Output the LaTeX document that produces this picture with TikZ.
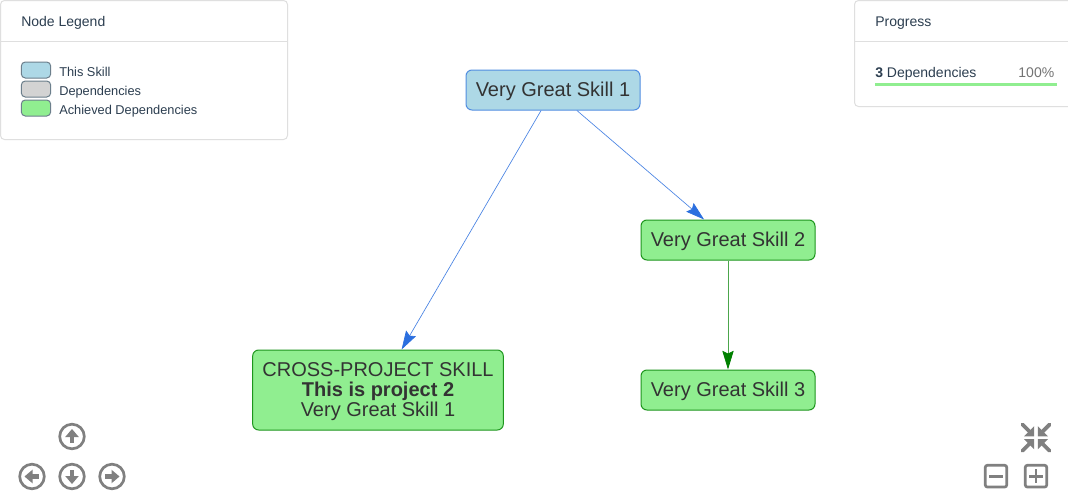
\documentclass[tikz,border=0pt]{standalone}
\usepackage{fontspec}
\setmainfont{Liberation Sans}
\usetikzlibrary{arrows.meta}
\definecolor{inkdark}{HTML}{2C3E50}
\definecolor{nodetext}{HTML}{333333}
\definecolor{panelline}{HTML}{DFDFDF}
\definecolor{edgeblue}{HTML}{2B6FDF}
\definecolor{edgegreen}{HTML}{008000}
\definecolor{skillblue}{HTML}{ADD8E6}
\definecolor{skillgray}{HTML}{D3D3D3}
\definecolor{skillgreen}{HTML}{90EE90}
\definecolor{swatchline}{HTML}{6C7F8C}
\definecolor{icongray}{HTML}{808080}
\newcommand{\dn}[1]{\raisebox{-0.75pt}[\height][\depth]{#1}}
\newcommand{\dnn}[1]{\raisebox{-1.5pt}[\height][\depth]{#1}}
\tikzset{
  x=0.75pt,y=-0.75pt,
  panel/.style={draw=panelline,line width=0.75pt,fill=white,rounded corners=3pt},
  divider/.style={draw=panelline,line width=0.75pt},
  skillnode/.style={rounded corners=4.5pt,inner sep=0pt,line width=0.75pt,text=nodetext,align=center,
    font=\fontsize{15}{15}\selectfont,minimum height=30pt,minimum width=130.5pt},
  thisskill/.style={skillnode,fill=skillblue,draw=edgeblue!70!skillblue},
  achieved/.style={skillnode,fill=skillgreen,draw=edgegreen!80!skillgreen},
  swatch/.style={draw=swatchline,line width=0.75pt,rounded corners=3pt,minimum width=22pt,minimum height=12pt,inner sep=0pt},
  head/.style={anchor=base west,inner sep=0pt,text=inkdark,font=\fontsize{10.5}{12}\selectfont},
  small/.style={anchor=base west,inner sep=0pt,text=inkdark,font=\fontsize{9.6}{12}\selectfont},
  edgeb/.style={draw=edgeblue!85!white,line width=0.5pt,-{Stealth[length=14pt,width=8.5pt,inset=2pt,color=edgeblue,fill=edgeblue]}},
  edgeg/.style={draw=edgegreen!70!white,line width=0.6pt,-{Stealth[length=14pt,width=8.5pt,inset=2pt,color=edgegreen,fill=edgegreen]}},
  ring/.style={draw=icongray,line width=2pt},
  glyph/.style={fill=icongray,draw=none},
  boxicon/.style={draw=icongray,line width=2pt,rounded corners=1.5pt},
  stroke/.style={draw=icongray,line width=2.2pt},
  pics/roundarrow/.style={code={
    \draw[ring] (0,0) circle[radius=12.3];
    \fill[glyph] (-6.8,0.5) -- (0,-7.5) -- (6.8,0.5) -- cycle;
    \fill[glyph] (-2.2,0) rectangle (2.2,6.8);
  }},
  pics/corner/.style={code={
    \fill[glyph] (-1.8,-1.4) -- (-12,-1.4) -- (-1.8,-11.6) -- cycle;
    \draw[draw=icongray,line width=2.8pt,line cap=round] (-5,-4.6) -- (-13.6,-13.2);
  }},
}
\begin{document}
\begin{tikzpicture}
\useasboundingbox (0,0) rectangle (1068,500);
\fill[white] (0,0) rectangle (1068,500);

% legend panel
\draw[panel] (0.5,0.5) rectangle (287.5,139.5);
\draw[divider] (0.5,41.5) -- (287.5,41.5);
\node[head] (legendtitle) at (21,26) {Node Legend};
\node[swatch,fill=skillblue] (swa) at (36,70) {};
\node[swatch,fill=skillgray] (swb) at (36,89) {};
\node[swatch,fill=skillgreen] (swc) at (36,108) {};
\node[small] (la) at (59,76) {This Skill};
\node[small] (lb) at (59,95) {Dependencies};
\node[small] (lc) at (59,114) {Achieved Dependencies};

% progress panel
\draw[panel] (854.5,0.5) rectangle (1075,106.5);
\draw[divider] (854.5,41.5) -- (1068,41.5);
\node[head] (progtitle) at (875,26) {Progress};
\node[head] (progcount) at (875,77) {\textbf{3} Dependencies};
\node[head,anchor=base east,text=icongray!90!black] (progpct) at (1054.5,77) {100\%};
\fill[skillgreen] (875,83) rectangle (1057,86);

% skill nodes
\node[thisskill] (n1) at (553,90) {\dn{Very Great Skill 1}};
\node[achieved] (n2) at (728,240) {\dn{Very Great Skill 2}};
\node[achieved] (n3) at (728,390) {\dn{Very Great Skill 3}};
\node[achieved,minimum width=188pt,minimum height=60pt] (n4) at (378,390)
  {\dnn{CROSS-PROJECT SKILL}\\\dnn{\textbf{This is project 2}}\\\dnn{Very Great Skill 1}};

% connectors
\draw[edgeb] (n1) -- (n2);
\draw[edgeb] (n1) -- (n4);
\draw[edgeg] (n2) -- (n3);

% navigation icons
\pic at (72,436.5) {roundarrow};
\pic[rotate=90] at (32,476.5) {roundarrow};
\pic[rotate=180] at (72,476.5) {roundarrow};
\pic[rotate=-90] at (112,476.5) {roundarrow};

% fit icon
\pic at (1036,437.7) {corner};
\pic[xscale=-1] at (1036,437.7) {corner};
\pic[yscale=-1] at (1036,437.7) {corner};
\pic[xscale=-1,yscale=-1] at (1036,437.7) {corner};

% zoom icons
\draw[boxicon] (985.3,465.3) rectangle (1006.7,487);
\draw[stroke] (989,476.2) -- (1003,476.2);
\draw[boxicon] (1025.3,465.3) rectangle (1046.7,487);
\draw[stroke] (1029,476.2) -- (1043,476.2);
\draw[stroke] (1036,469) -- (1036,483.4);
\end{tikzpicture}
\end{document}
